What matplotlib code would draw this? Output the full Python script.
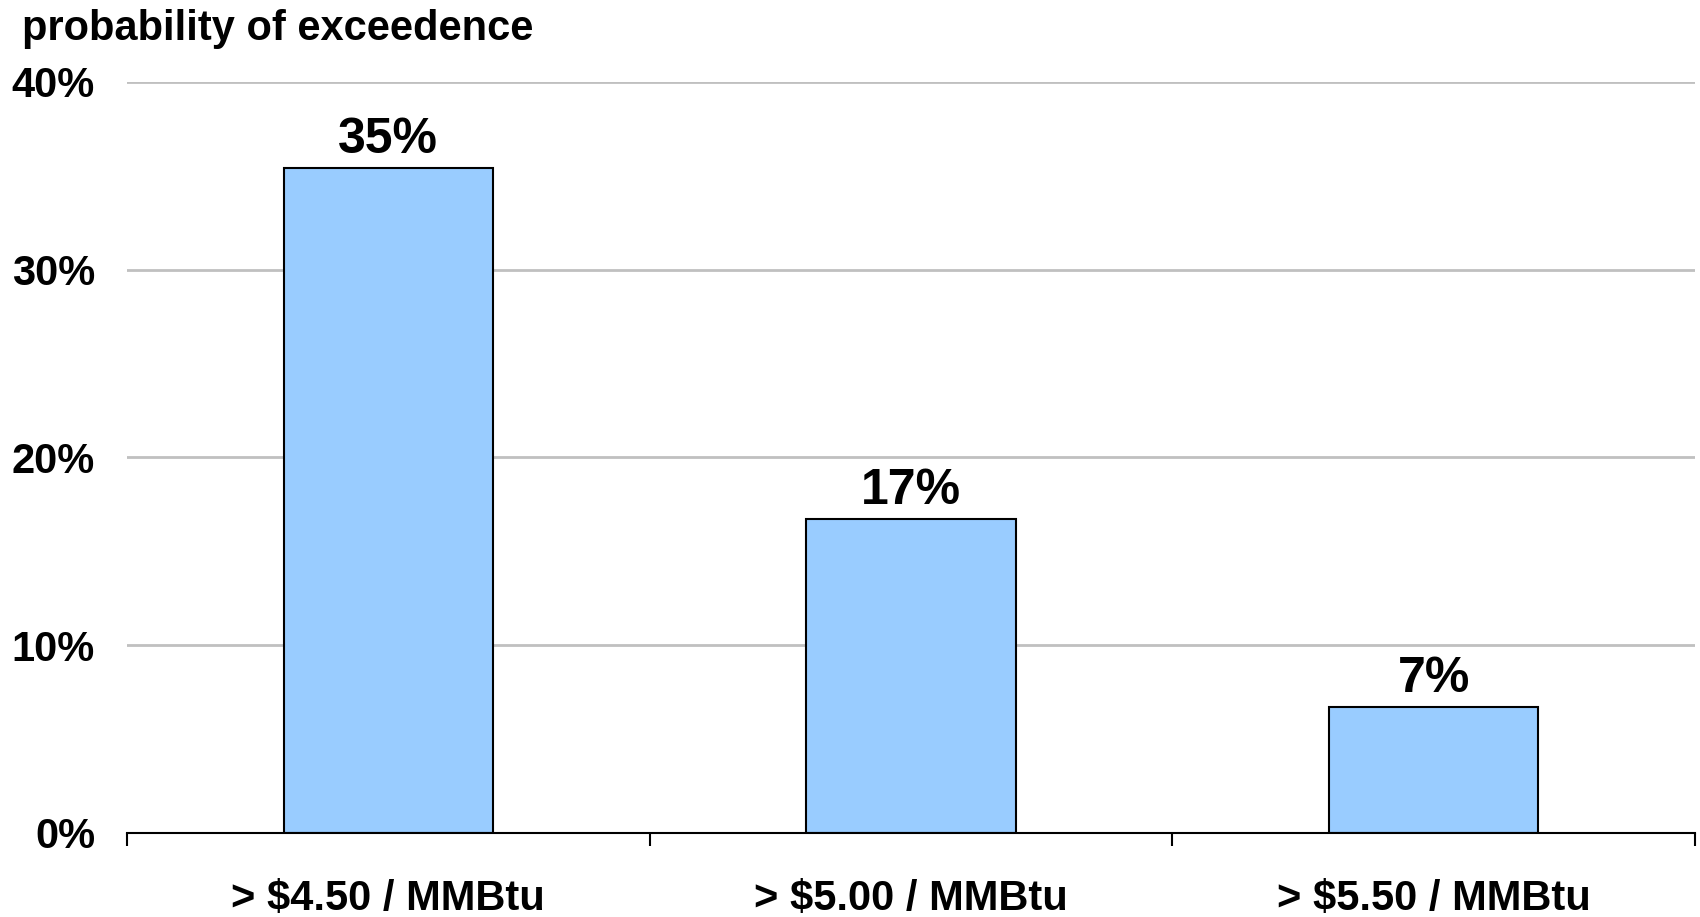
import matplotlib
matplotlib.use("Agg")
import matplotlib.pyplot as plt
import numpy as np

categories = ["> $4.50 / MMBtu", "> $5.00 / MMBtu", "> $5.50 / MMBtu"]
values = [35.4, 16.7, 6.7]
bar_labels = ["35%", "17%", "7%"]
yticks = [0, 10, 20, 30, 40]
ytick_labels = ["0%", "10%", "20%", "30%", "40%"]
title = "probability of exceedence"

plt.rcParams['font.family'] = ['Liberation Sans', 'DejaVu Sans']
plt.rcParams['font.weight'] = 'bold'

fig = plt.figure(figsize=(17, 9.17), dpi=100)
ax = fig.add_axes([127/1700, (917-833)/917, (1695-127)/1700, (833-82)/917])

x = np.arange(len(categories))
bars = ax.bar(x, values, width=0.4, color="#99CCFF", edgecolor="black", linewidth=1.5, zorder=3)
for xi, v, lab in zip(x, values, bar_labels):
    ax.annotate(lab, (xi, v), xytext=(0, 15), textcoords="offset pixels",
                ha="center", va="baseline", fontsize=36, fontweight="bold")

ax.set_xlim(-0.5, len(categories) - 0.5)
ax.set_ylim(0, 40)
ax.set_yticks(yticks)
ax.set_yticklabels(ytick_labels, fontsize=30, fontweight="bold")
ax.yaxis.grid(True, color="#C0C0C0", linewidth=2, zorder=0)
ax.tick_params(axis="y", length=0, pad=23)

# category tick marks at boundaries
ax.set_xticks(np.arange(-0.5, len(categories)), minor=False)
ax.set_xticklabels([])
ax.tick_params(axis="x", length=9, width=1.5, color="black", direction="out")
for xi, c in zip(x, categories):
    ax.annotate(c, (xi, 0), xycoords=("data", "axes fraction"), xytext=(0, -77),
                textcoords="offset pixels", ha="center", va="baseline",
                fontsize=30, fontweight="bold")

for s in ["left", "right", "top"]:
    ax.spines[s].set_visible(False)
ax.spines["bottom"].set_linewidth(1.5)
ax.spines["bottom"].set_color("black")
ax.spines["bottom"].set_zorder(4)

fig.text(22/1700, 1 - 40/917, title, ha="left", va="baseline", fontsize=30, fontweight="bold")

fig.savefig("out.png", dpi=100)
